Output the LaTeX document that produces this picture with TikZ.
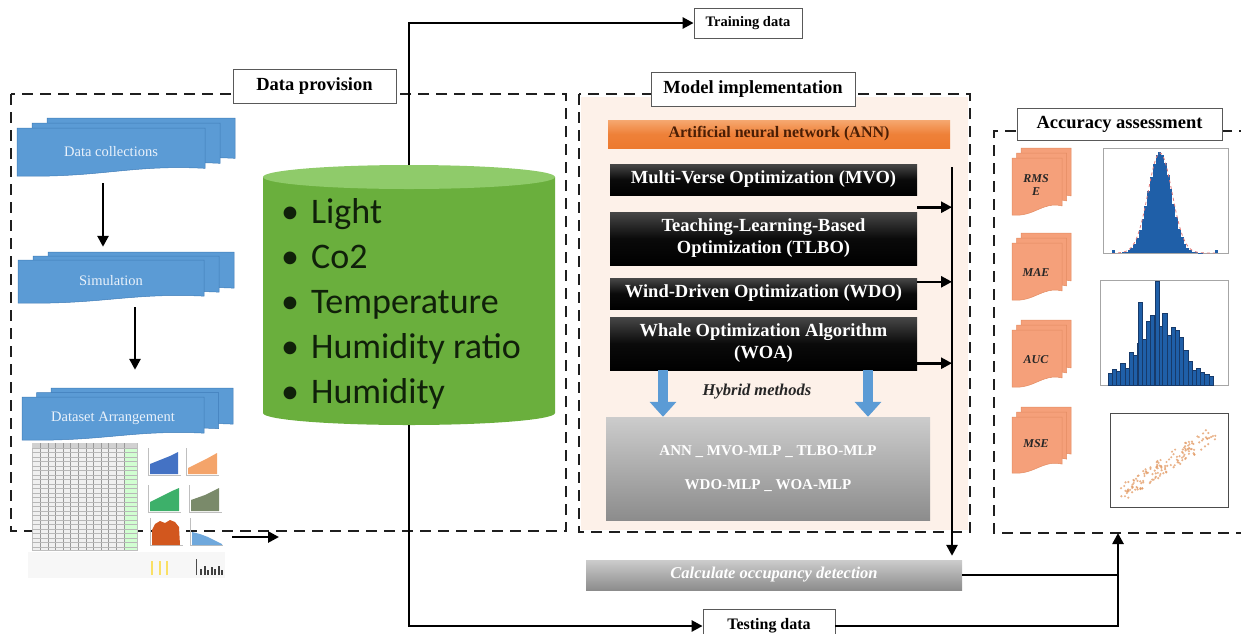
\documentclass[tikz,border=0pt]{standalone}
\usepackage{fontspec}
\setmainfont{Liberation Serif}
\newfontfamily\bodysans{Carlito}
\usetikzlibrary{arrows.meta,calc}

\definecolor{docblue}{HTML}{5B9BD5}
\definecolor{docblueedge}{HTML}{3F7CB8}
\definecolor{doctext}{HTML}{EAF2FB}
\definecolor{cylside}{HTML}{6AAF3D}
\definecolor{cyltop}{HTML}{8FCB6A}
\definecolor{cylink}{HTML}{10200A}
\definecolor{peach}{HTML}{FDF1E9}
\definecolor{annA}{HTML}{F6A870}
\definecolor{annB}{HTML}{ED7A2F}
\definecolor{anntext}{HTML}{4A1E05}
\definecolor{salmon}{HTML}{F5A07A}
\definecolor{salmonedge}{HTML}{E38C62}
\definecolor{arrowblue}{HTML}{5B9BD5}
\definecolor{histblue}{HTML}{1F5FA8}
\definecolor{histnavy}{HTML}{173A6A}
\definecolor{dotorange}{HTML}{E29A64}
\definecolor{fitred}{HTML}{E07A7A}
\definecolor{chblue}{HTML}{4472C4}
\definecolor{chorange}{HTML}{F4A46A}
\definecolor{chgreen}{HTML}{3DB06A}
\definecolor{cholive}{HTML}{7A8A6A}
\definecolor{chred}{HTML}{D2571E}
\definecolor{chsky}{HTML}{6FA8DC}

% one document sheet with a wavy lower edge: left, top, width, height, style
\newcommand\docsh[5]{%
  \path[#5] ({#1},{#2}) -- ({#1+#3},{#2}) -- ({#1+#3},{#2+0.84*#4})
    .. controls ({#1+0.6*#3},{#2+0.76*#4}) and ({#1+0.45*#3},{#2+1.04*#4}) .. ({#1},{#2+#4}) -- cycle;}
% three stacked sheets: left, top, width, height, dx, dy, style
\newcommand\stackdoc[7]{%
  \docsh{#1+2*#5}{#2-2*#6}{#3}{#4}{#7}
  \docsh{#1+#5}{#2-#6}{#3}{#4}{#7}
  \docsh{#1}{#2}{#3}{#4}{#7}}

\begin{document}
\begin{tikzpicture}[x=1pt,y=-1pt,
  frame/.style={draw=black!88, line width=2.4pt, dash pattern=on 11pt off 7pt},
  titlebox/.style={draw=black!65, fill=white, line width=0.8pt, inner sep=0pt,
    font=\bfseries\fontsize{18.5}{20}\selectfont},
  conn/.style={draw=black, line width=2.6pt},
  arr/.style={conn, -{Triangle[length=11pt,width=11pt]}},
  bluearr/.style={draw=arrowblue, line width=10pt, -{Triangle[length=15pt,width=26pt]}},
  bluedoc/.style={fill=docblue, draw=docblueedge, line width=0.5pt},
  salmondoc/.style={fill=salmon, draw=salmonedge, line width=0.5pt},
  doclabel/.style={inner sep=0pt, text=doctext, font=\fontsize{14.5}{16}\selectfont},
  acclabel/.style={inner sep=0pt, text=black!85, align=center,
    font=\bfseries\itshape\fontsize{12}{13}\selectfont},
  algbox/.style={top color=black!72, bottom color=black, middle color=black!96,
    text=white, inner sep=0pt, minimum width=307pt, align=center,
    font=\bfseries\fontsize{18.5}{22}\selectfont},
  grayshade/.style={top color=black!20, bottom color=black!45, text=white, inner sep=0pt},
  plotframe/.style={draw=black!35, line width=0.5pt},
]
\useasboundingbox (0,0) rectangle (1241,633);

% ---------- frames ----------
\fill[peach] (581,97) rectangle (968,530);
\draw[frame] (11,94) rectangle (566,531);
\draw[frame] (579,94) rectangle (970,532);
\draw[frame] (1250,131) -- (994,131) -- (994,533) -- (1250,533);

\node[titlebox, minimum width=163pt, minimum height=34pt] (tdp) at (314.5,86) {Data provision};
\node[titlebox, minimum width=204pt, minimum height=34pt] (tmi) at (753,89) {Model implementation};
\node[titlebox, minimum width=205pt, minimum height=32pt] (taa) at (1119.5,124) {Accuracy assessment};
\node[titlebox, minimum width=108pt, minimum height=30pt, font=\bfseries\fontsize{14.5}{16}\selectfont] (train) at (748,23) {Training data};
\node[titlebox, minimum width=132pt, minimum height=34pt, font=\bfseries\fontsize{16}{18}\selectfont] (test) at (769,626) {Testing data};

% ---------- data provision: stacked documents ----------
\stackdoc{17}{128}{188}{48}{15}{5}{bluedoc}
\node[doclabel, minimum width=188pt, minimum height=48pt] (dc) at (111,152) {Data collections};
\stackdoc{18}{260}{186}{43}{15}{4}{bluedoc}
\node[doclabel, minimum width=186pt, minimum height=43pt] (sim) at (111,281) {Simulation};
\stackdoc{22}{397}{182}{43}{14.5}{4.5}{bluedoc}
\node[doclabel, minimum width=182pt, minimum height=43pt] (ds) at (113,418.5) {Dataset Arrangement};

\draw[arr] ([xshift=-8pt,yshift=-7pt]dc.south) -- ([xshift=-8pt,yshift=12.5pt]sim.north);
\draw[arr] ([xshift=24pt,yshift=-4.5pt]sim.south) -- ([xshift=22pt,yshift=27pt]ds.north);

% dataset sheet
\node[draw=black!25, fill=black!6, minimum width=105pt, minimum height=107pt, inner sep=0pt] (tbl) at (84.5,496.5) {};
\fill[green!18] (124,443) rectangle (137,550);
\fill[black!18] (32,443) rectangle (137,448);
\foreach \gx in {40,48,55,63,70,78,86,93,101,108,116,124}
  \draw[black!40, line width=0.3pt] (\gx,443) -- (\gx,550);
\foreach \gy in {448,452.5,...,548}
  \draw[black!28, line width=0.25pt] (32,\gy) -- (137,\gy);
\fill[black!3] (28,552) rectangle (225,578);

% small area charts
\foreach \lx/\ty in {148/448,186/448,148/485,189/485,150/518,190/518}
  \draw[black!25, line width=0.4pt] (\lx,\ty) -- (\lx,{\ty+27}) -- ({\lx+33},{\ty+27});
\fill[chblue] (150,474) -- (150,464) -- (160,460) -- (170,456) -- (178,452) -- (178,474) -- cycle;
\fill[chorange] (188,474) -- (188,468) -- (198,463) -- (208,458) -- (217,453) -- (217,474) -- cycle;
\fill[chgreen] (150,511) -- (150,502) -- (162,496) -- (172,491) -- (179,488) -- (179,511) -- cycle;
\fill[cholive] (191,511) -- (191,500) -- (205,495) -- (219,488) -- (219,511) -- cycle;
\fill[chred] (152,545) -- (152,530) -- (155,524) -- (160,521) -- (165,523) -- (170,520) -- (175,522) -- (179,527) -- (180,545) -- cycle;
\fill[chsky] (192,545) -- (192,532) -- (200,534) -- (208,537) -- (216,541) -- (222,544) -- (222,545) -- cycle;
\foreach \sx in {152,160,167}
  \draw[yellow!70!orange, opacity=0.6, line width=1.4pt] (\sx,575) -- (\sx,561);
\draw[black!70, line width=0.6pt] (196,575) -- (196,559);
\foreach \bx/\bh in {200/6,204/9,207/5,211/8,214/6,218/9,221/5}
  \fill[black!75] (\bx,575) rectangle ({\bx+1.6},{575-\bh});

\node[minimum width=200pt, minimum height=135pt, inner sep=0pt] (imgs) at (132,510) {};
\coordinate (dpOut) at (279,537);
\draw[arr] (imgs.east |- dpOut) -- (dpOut);

% ---------- sensor cylinder ----------
\fill[cylside] (263,177) -- (263,413) arc[start angle=180, end angle=360, x radius=146pt, y radius=12pt] -- (555,177) -- cycle;
\fill[cyltop] (409,177) ellipse [x radius=146pt, y radius=12pt];
\node[minimum width=292pt, minimum height=260pt, inner sep=0pt] (cyl) at (409,295) {};
\node[anchor=west, align=left, inner sep=0pt, text=cylink,
  font=\bodysans\fontsize{36}{45}\selectfont] (feat) at (281,304)
  {\textbullet\hspace{12pt}Light\\ \textbullet\hspace{12pt}Co2\\ \textbullet\hspace{12pt}Temperature\\
   \textbullet\hspace{12pt}Humidity ratio\\ \textbullet\hspace{12pt}Humidity};

\draw[arr] (cyl.north) |- (train.west);
\draw[arr] (cyl.south) |- (test.west);

% ---------- model implementation ----------
\node[top color=annA, bottom color=annB, middle color=annB!85!annA, text=anntext, inner sep=0pt,
  minimum width=342pt, minimum height=28pt, font=\bfseries\fontsize{16}{18}\selectfont] (ann) at (779,134)
  {Artificial neural network (ANN)};
\node[algbox, minimum height=31pt] (mvo) at (763.5,179.5) {Multi-Verse Optimization (MVO)};
\node[algbox, minimum height=53pt] (tlbo) at (763.5,238.5) {Teaching-Learning-Based\\Optimization (TLBO)};
\node[algbox, minimum height=31pt] (wdo) at (763.5,293.5) {Wind-Driven Optimization (WDO)};
\node[algbox, minimum height=53pt] (woa) at (763.5,343.5) {Whale Optimization Algorithm\\(WOA)};

\node[grayshade, minimum width=324pt, minimum height=103pt, align=center,
  font=\bfseries\fontsize{15}{34}\selectfont] (hyb) at (768,468.5)
  {ANN \_ MVO-MLP \_ TLBO-MLP\\WDO-MLP \_ WOA-MLP};
\node[inner sep=0pt, text=black!85, font=\bfseries\itshape\fontsize{16.5}{18}\selectfont] (hm) at (757,392) {Hybrid methods};
\draw[bluearr] ([xshift=-100.5pt]woa.south) -- ([xshift=-105pt]hyb.north);
\draw[bluearr] ([xshift=104.5pt]woa.south) -- ([xshift=100pt]hyb.north);

\node[grayshade, minimum width=376pt, minimum height=30pt,
  font=\bfseries\itshape\fontsize{16.5}{18}\selectfont] (calc) at (774,575) {Calculate occupancy detection};

\coordinate (busTop) at (952,167);
\draw[arr] (busTop) -- ([yshift=4pt]busTop |- calc.north);
\path ([yshift=-12pt]mvo.south east) coordinate (inA);
\path ([yshift=-4pt]wdo.north east) coordinate (inB);
\path ([yshift=7pt]woa.south east) coordinate (inC);
\draw[arr] (inA) -- (inA -| busTop);
\draw[arr] (inB) -- (inB -| busTop);
\draw[arr] (inC) -- (inC -| busTop);

% ---------- accuracy assessment ----------
\coordinate (accIn) at (1118,533);
\draw[conn] (calc.east) -- (calc.east -| accIn);
\draw[arr] (test.east) -| (accIn);

\stackdoc{1012}{158}{50}{57}{4.5}{5}{salmondoc}
\node[acclabel] (rmse) at (1036,185) {RMS\\E};
\stackdoc{1012}{243}{50}{57}{4.5}{5}{salmondoc}
\node[acclabel] (mae) at (1036,273) {MAE};
\stackdoc{1012}{330}{50}{57}{4.5}{5}{salmondoc}
\node[acclabel] (auc) at (1036,360) {AUC};
\stackdoc{1012}{417}{50}{56}{4.5}{5}{salmondoc}
\node[acclabel] (mse) at (1036,444) {MSE};

% histogram of errors, narrow
\draw[plotframe] (1103,148) rectangle (1228,253);
\foreach \i in {0,...,28} {
  \pgfmathsetmacro\xx{1122+2.8*\i}
  \pgfmathsetmacro\hh{101*exp(-((\xx+1.4-1160)^2)/(2*11.5^2))}
  \fill[histblue] (\xx,253) rectangle ({\xx+2.8},{253-\hh});
}
\draw[fitred, dashed, line width=0.8pt] plot[domain=1112:1215, samples=70] (\x,{253-100*exp(-((\x-1160)^2)/(2*12^2))});
\fill[histblue] (1112,250) rectangle (1115,253);
\fill[histblue] (1215,250) rectangle (1218,253);

% histogram of errors, wide
\pgfmathsetseed{11}
\draw[plotframe] (1100,280) rectangle (1228,385);
\foreach \i in {0,...,24} {
  \pgfmathsetmacro\xx{1108+4.2*\i}
  \pgfmathsetmacro\hh{(8+70*exp(-((\xx+2-1158)^2)/(2*20^2)))*(0.55+0.6*rnd)}
  \filldraw[fill=histblue, draw=histnavy, line width=0.5pt] (\xx,385) rectangle ({\xx+4.2},{385-\hh});
}
\filldraw[fill=histblue, draw=histnavy, line width=0.5pt] (1155,385) rectangle (1159,281);
\filldraw[fill=histblue, draw=histnavy, line width=0.5pt] (1138,385) rectangle (1142,302);

% scatter of predicted against observed
\pgfmathsetseed{5}
\draw[draw=black!70, line width=0.8pt] (1110,413) rectangle (1228,507);
\foreach \i in {1,...,150} {
  \pgfmathsetmacro\tt{rnd}
  \pgfmathsetmacro\px{1120+96*\tt}
  \pgfmathsetmacro\py{494-62*\tt+18*(rnd-0.5)}
  \fill[dotorange, opacity=0.75] (\px,\py) circle[radius=1.2pt];
}
\end{tikzpicture}
\end{document}
